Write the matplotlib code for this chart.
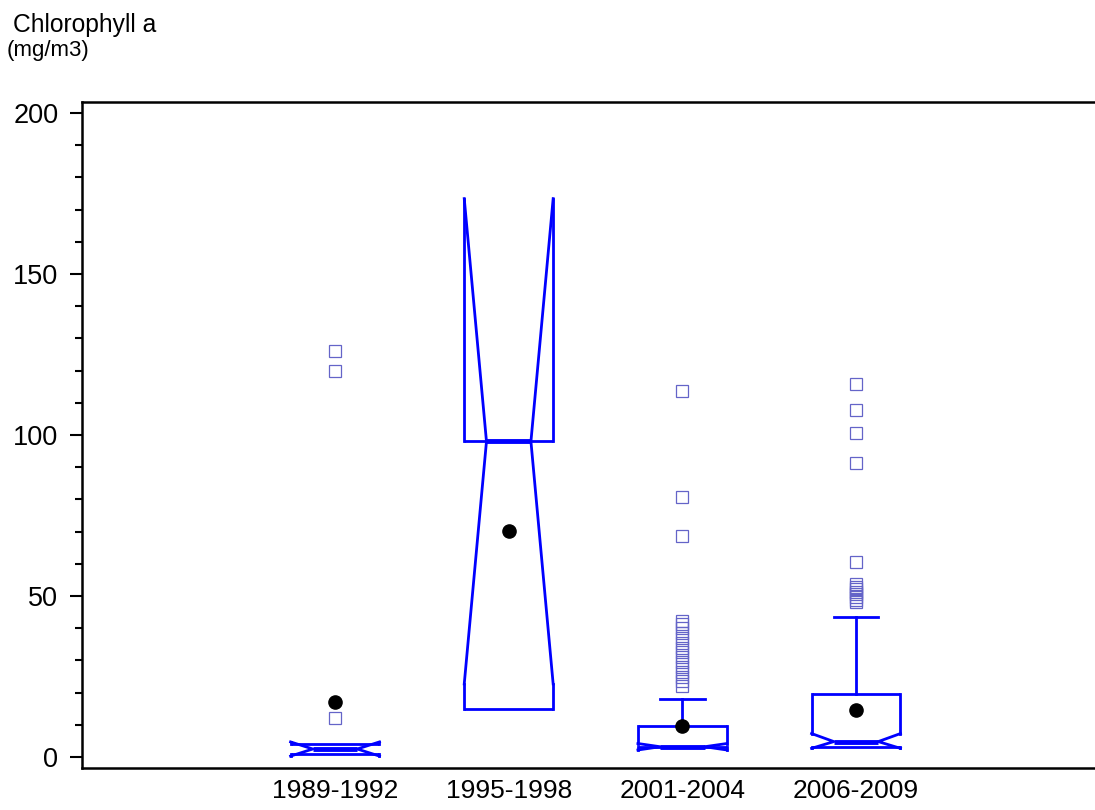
import matplotlib
matplotlib.use("Agg")
import matplotlib.pyplot as plt
from matplotlib.ticker import MultipleLocator

plt.rcParams['font.family'] = ['Liberation Sans', 'DejaVu Sans']

# Periods and summary statistics of chlorophyll a (mg/m3)
periods = ["1989-1992", "1995-1998", "2001-2004", "2006-2009"]
q1 = [1.0, 15.0, 3.2, 3.0]
median = [2.5, 98.0, 3.2, 4.8]
q3 = [4.0, 98.0, 9.6, 19.6]
notch_lo = [0.3, 22.7, 2.2, 2.7]
notch_hi = [4.7, 173.4, 4.2, 7.3]
whisker_hi = [4.0, 98.0, 18.0, 43.4]
means = [17.1, 70.2, 9.6, 14.6]
outliers = [
    [12.1, 119.9, 126.1],
    [],
    [22.2, 23.5, 25.0, 26.5, 28.0, 29.5, 31.0, 32.5, 34.0, 35.5, 37.0,
     38.5, 40.0, 41.2, 42.2, 68.6, 80.8, 113.8],
    [48.1, 48.9, 49.7, 50.5, 51.3, 52.1, 52.9, 53.6, 60.7, 91.4, 100.5,
     107.8, 115.8],
]

BLUE = "#0000ff"
OUT_C = "#6464c8"

fig = plt.figure(figsize=(10.95, 8.10), dpi=100)
ax = fig.add_axes([82 / 1095, 1 - 768 / 810, 1 - 82 / 1095, (768 - 102) / 810])

hw = 0.256        # half box width
iw = hw * 0.5     # half width at the notch waist
cw = hw * 0.5     # half width of whisker cap
lw = 2.0

for i, name in enumerate(periods):
    x = i + 1
    # box top and bottom
    ax.plot([x - hw, x + hw], [q3[i], q3[i]], color=BLUE, lw=lw, solid_capstyle='butt')
    ax.plot([x - hw, x + hw], [q1[i], q1[i]], color=BLUE, lw=lw, solid_capstyle='butt')
    for s in (-1, 1):
        # straight box sides outside the notch
        ax.plot([x + s * hw] * 2, [q3[i], notch_hi[i]], color=BLUE, lw=lw)
        ax.plot([x + s * hw] * 2, [q1[i], notch_lo[i]], color=BLUE, lw=lw)
        # notch diagonals
        ax.plot([x + s * hw, x + s * iw, x + s * hw],
                [notch_hi[i], median[i], notch_lo[i]], color=BLUE, lw=lw)
    # median
    ax.plot([x - iw, x + iw], [median[i], median[i]], color=BLUE, lw=3.5,
            solid_capstyle='butt')
    # upper whisker
    if whisker_hi[i] > q3[i]:
        ax.plot([x, x], [q3[i], whisker_hi[i]], color=BLUE, lw=lw)
        ax.plot([x - cw, x + cw], [whisker_hi[i], whisker_hi[i]], color=BLUE, lw=lw)
    # outliers
    if outliers[i]:
        ax.plot([x] * len(outliers[i]), outliers[i], linestyle='none', marker='s',
                markersize=9, markerfacecolor='none', markeredgecolor=OUT_C,
                markeredgewidth=0.9, zorder=3)
    # mean
    ax.plot([x], [means[i]], marker='o', markersize=9.5, color='black',
            linestyle='none', zorder=5)

ax.set_xlim(-0.457, 5.376)
ax.set_ylim(-3.4, 203.4)
ax.set_xticks(range(1, len(periods) + 1))
ax.set_xticklabels(periods)
ax.yaxis.set_major_locator(MultipleLocator(50))
ax.yaxis.set_minor_locator(MultipleLocator(10))
ax.tick_params(axis='x', length=0, pad=8, labelsize=19)
ax.tick_params(axis='y', which='major', length=9, width=1.5, pad=8, labelsize=19.5)
ax.tick_params(axis='y', which='minor', length=5, width=1.5)
ax.spines['right'].set_visible(False)
for sp in ('left', 'top', 'bottom'):
    ax.spines[sp].set_linewidth(1.8)

fig.text(13 / 1095, 1 - 32 / 810, "Chlorophyll a", fontsize=17.7, va='baseline')
fig.text(7 / 1095, 1 - 56 / 810, "(mg/m3)", fontsize=16, va='baseline')

fig.savefig("out.png", dpi=100)
